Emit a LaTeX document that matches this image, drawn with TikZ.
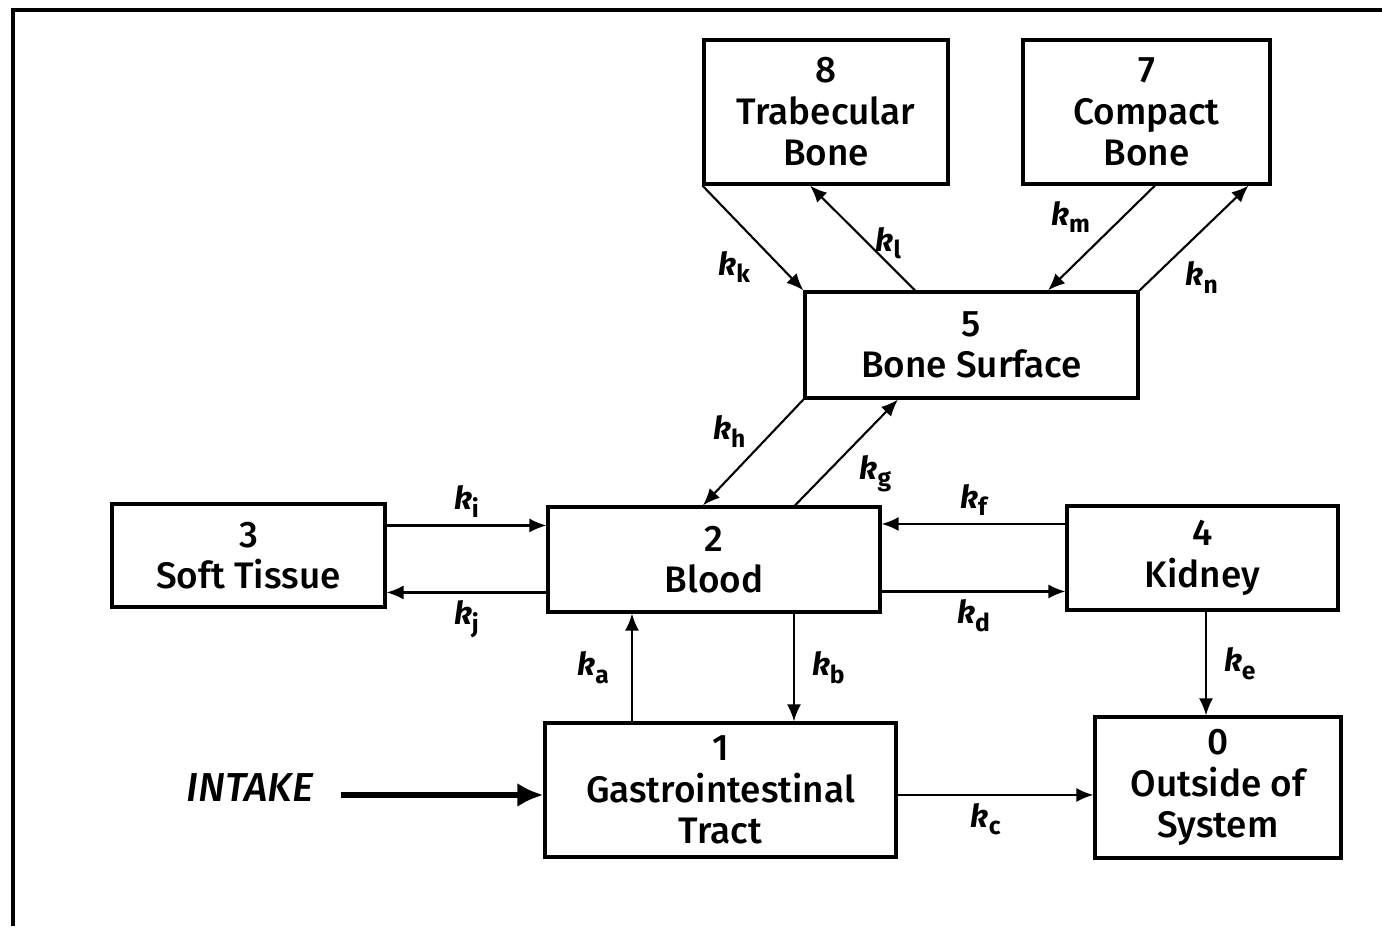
\documentclass[tikz,border=0pt]{standalone}
\usepackage{fontspec}
\setmainfont{Fira Sans}[UprightFont=* Medium,ItalicFont=* Medium Italic,BoldFont=* Bold,BoldItalicFont=* Bold Italic]
\usepackage{tikz}
\usetikzlibrary{arrows.meta}

\newcommand{\krate}[1]{\textbf{\textit{k}}\raisebox{-0.45ex}{\scriptsize\bfseries #1}}

\begin{document}
\begin{tikzpicture}[
  box/.style={draw,line width=0.9pt,align=center,inner sep=0pt,
    font=\fontsize{10.5}{11.8}\selectfont},
  flow/.style={line width=0.6pt,-{Latex[length=1.7mm,width=1.4mm]}},
  rate/.style={font=\small,inner sep=2pt}]

% Frame
\useasboundingbox (0,0) rectangle (13.82,9.28);
\draw[line width=1.2pt] (0.13,0.02) -- (0.13,9.18) -- (13.82,9.18);

% Compartments
\node[box,minimum width=2.44cm,minimum height=1.44cm] (n8) at (8.26,8.16) {8\\Trabecular\\Bone};
\node[box,minimum width=2.47cm,minimum height=1.44cm] (n7) at (11.465,8.16) {7\\Compact\\Bone};
\node[box,minimum width=3.33cm,minimum height=1.06cm] (n5) at (9.715,5.83) {5\\Bone Surface};
\node[box,minimum width=2.73cm,minimum height=1.03cm] (n3) at (2.485,3.725) {3\\Soft Tissue};
\node[box,minimum width=3.32cm,minimum height=1.05cm] (n2) at (7.14,3.685) {2\\Blood};
\node[box,minimum width=2.71cm,minimum height=1.04cm] (n4) at (12.025,3.70) {4\\Kidney};
\node[box,minimum width=3.51cm,minimum height=1.34cm] (n1) at (7.205,1.38) {1\\Gastrointestinal\\Tract};
\node[box,minimum width=2.46cm,minimum height=1.41cm] (n0) at (12.18,1.405) {0\\Outside of\\System};
\node[font=\fontsize{11.5}{13}\selectfont\itshape] (intake) at (2.5,1.40) {INTAKE};

% Bone exchanges
\draw[flow] (n8.south west) -- node[rate,below left,pos=0.55] {\krate{k}} (n5.north west);
\draw[flow] ([xshift=-0.565cm]n5.north) -- node[rate,right,pos=0.45] {\krate{l}} ([xshift=-0.16cm]n8.south);
\draw[flow] ([xshift=0.085cm]n7.south) -- node[rate,left,pos=0.3,xshift=-0.25cm] {\krate{m}} ([xshift=0.765cm]n5.north);
\draw[flow] (n5.north east) -- node[rate,below right,pos=0.35] {\krate{n}} ([xshift=-0.23cm]n7.south east);
\draw[flow] (n5.south west) -- node[rate,left,pos=0.3,xshift=-0.2cm] {\krate{h}} ([xshift=-0.11cm]n2.north);
\draw[flow] ([xshift=0.81cm]n2.north) -- node[rate,below right,pos=0.55] {\krate{g}} ([xshift=-0.735cm]n5.south);

% Horizontal exchanges
\draw[flow] ([yshift=0.3cm]n3.east) -- node[rate,above] {\krate{i}} ([yshift=0.3cm]n3.east -| n2.west);
\draw[flow] ([yshift=-0.33cm]n2.west) -- node[rate,below] {\krate{j}} ([yshift=-0.33cm]n2.west -| n3.east);
\draw[flow] ([yshift=0.34cm]n4.west) -- node[rate,above] {\krate{f}} ([yshift=0.34cm]n4.west -| n2.east);
\draw[flow] ([yshift=-0.32cm]n2.east) -- node[rate,below] {\krate{d}} ([yshift=-0.32cm]n2.east -| n4.west);
\draw[flow] ([yshift=-0.05cm]n1.east) -- node[rate,below,pos=0.45] {\krate{c}} ([yshift=-0.05cm]n1.east -| n0.west);

% Vertical exchanges
\draw[flow] ([xshift=-0.885cm]n1.north) -- node[rate,left,xshift=-0.15cm] {\krate{a}} ([xshift=-0.885cm]n1.north |- n2.south);
\draw[flow] ([xshift=0.8cm]n2.south) -- node[rate,right,xshift=0.1cm] {\krate{b}} ([xshift=0.8cm]n2.south |- n1.north);
\draw[flow] ([xshift=0.035cm]n4.south) -- node[rate,right,xshift=0.1cm] {\krate{e}} ([xshift=0.035cm]n4.south |- n0.north);

% Intake
\draw[line width=1.8pt,-{Latex[length=2.6mm,width=2.4mm]}] ([xshift=0.15cm,yshift=-0.07cm]intake.east) -- ([yshift=-0.07cm]intake.east -| n1.west);

\end{tikzpicture}
\end{document}
